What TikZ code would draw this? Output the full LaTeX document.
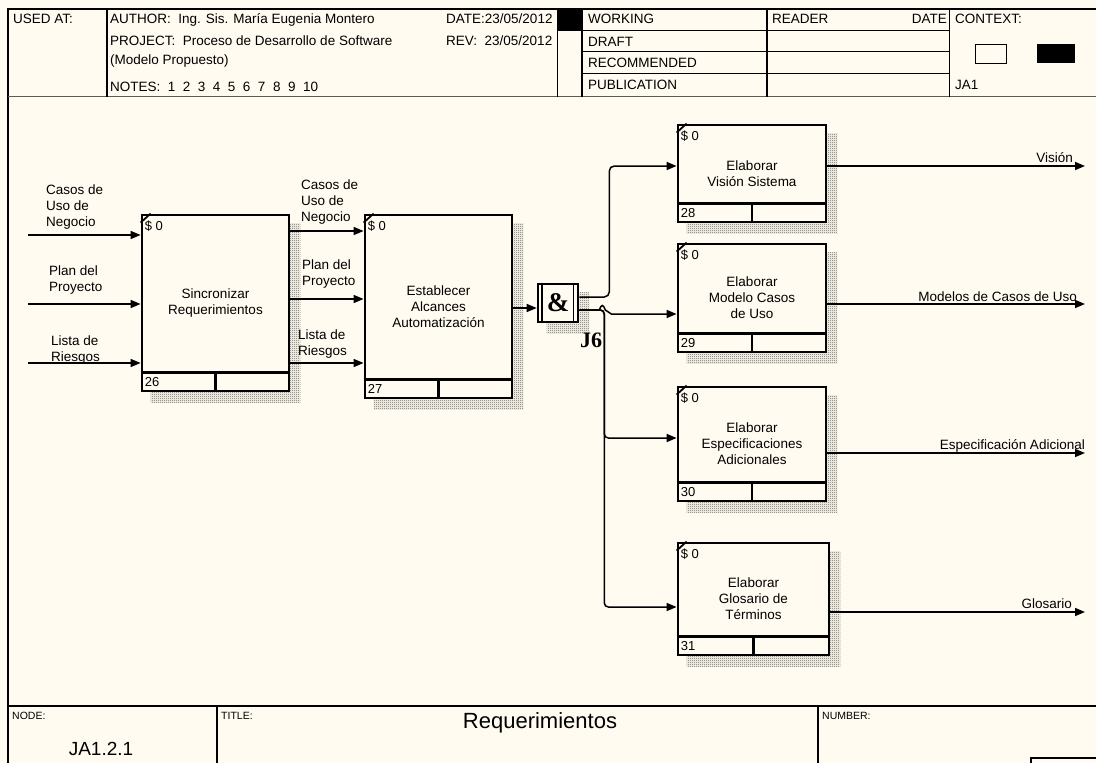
\documentclass[tikz,border=0pt]{standalone}
\usepackage{fontspec}
\setmainfont{Liberation Sans}
\newfontfamily\junctionfont{Liberation Serif}
\usepackage{tikz}
\usetikzlibrary{arrows.meta, positioning, backgrounds, patterns}

\definecolor{paper}{RGB}{255,251,240}
\definecolor{hatchgray}{RGB}{95,95,95}
\definecolor{rulegray}{RGB}{90,90,90}

\pgfdeclarepatternformonly{finechecker}{\pgfqpoint{0pt}{0pt}}{\pgfqpoint{2pt}{2pt}}%
  {\pgfqpoint{2pt}{2pt}}{%
  \pgfpathrectangle{\pgfqpoint{0pt}{0pt}}{\pgfqpoint{1pt}{1pt}}%
  \pgfpathrectangle{\pgfqpoint{1pt}{1pt}}{\pgfqpoint{1pt}{1pt}}%
  \pgfusepath{fill}}

\begin{document}
\begin{tikzpicture}[
    x=1pt, y=-1pt,
    font=\fontsize{13.5}{16}\selectfont,
    activity/.style={rectangle, draw, line width=2.8pt, fill=paper,
      inner sep=0pt, align=center},
    junction/.style={rectangle, draw, line width=2.6pt, fill=paper,
      minimum width=40pt, minimum height=38pt, inner sep=0pt,
      font=\junctionfont\bfseries\fontsize{27}{27}\selectfont},
    flow/.style={-{Triangle[length=10pt, width=8pt]}, line width=1.5pt},
    flowlabel/.style={inner sep=0pt, align=left, anchor=south west},
    outlabel/.style={inner sep=0pt, anchor=base east},
    boxtag/.style={inner sep=0pt, font=\fontsize{13}{15}\selectfont},
    boxshadow/.style={pattern=finechecker, pattern color=hatchgray},
    ruling/.style={line width=1.4pt},
    hdrtext/.style={inner sep=0pt, anchor=base west},
    foottag/.style={inner sep=0pt, anchor=base west,
      font=\fontsize{10.5}{12}\selectfont},
]
\useasboundingbox (0,0) rectangle (1096,763);

% ── Header frame ──
\draw[ruling] (8,763) -- (8,9) -- (1096,9);
\draw[ruling, line width=1.9pt, rulegray] (8,96.5) -- (1096,96.5);
\draw[ruling] (107,9) -- (107,96.5);
\foreach \x in {557.7, 581.8, 767, 949.6}
  \draw[ruling] (\x,9) -- (\x,96.5);
\foreach \y in {30.7, 51.7, 73.3}
  \draw[ruling] (581.8,\y) -- (949.6,\y);

\node[hdrtext] (usedat) at (13,23.5) {USED AT:};
\node[hdrtext] (author) at (110,23.5) {AUTHOR:\ \ Ing. Sis. María Eugenia Montero};
\node[hdrtext] (project) at (110,45) {PROJECT:\ \ Proceso de Desarrollo de Software};
\node[hdrtext] (project2) at (110,64.5) {(Modelo Propuesto)};
\node[hdrtext] (notes) at (110,91.6)
  {NOTES:\ \ 1\ \ 2\ \ 3\ \ 4\ \ 5\ \ 6\ \ 7\ \ 8\ \ 9\ \ 10};
\node[hdrtext] (date) at (446,23.5) {DATE:23/05/2012};
\node[hdrtext] (rev) at (446,45) {REV:\ \ 23/05/2012};
\node[hdrtext] (working) at (588,23.5) {WORKING};
\node[hdrtext] (draft) at (588,46) {DRAFT};
\node[hdrtext] (recommended) at (588,67) {RECOMMENDED};
\node[hdrtext] (publication) at (588,89.3) {PUBLICATION};
\node[hdrtext] (reader) at (772,23.5) {READER};
\node[hdrtext, anchor=base east] (readerdate) at (947,23.5) {DATE};
\node[hdrtext] (context) at (955,23.5) {CONTEXT:};
\node[hdrtext] (contextid) at (955,89.3) {JA1};

\fill (557.7,9) rectangle (581.8,30.7);
\draw[line width=1.2pt, fill=paper] (975.5,44.3) rectangle (1006.7,63.3);
\fill (1036.5,44.3) rectangle (1074.8,63.3);

% ── Activity boxes ──
\node[activity, minimum width=147pt, minimum height=176pt] (b26) at (215.5,303)
  {Sincronizar\\Requerimientos};
\node[activity, minimum width=147pt, minimum height=183pt] (b27) at (438.5,306.5)
  {Establecer\\Alcances\\Automatización};
\node[activity, minimum width=148pt, minimum height=97pt] (b28) at (752,173.5)
  {Elaborar\\Visión Sistema};
\node[activity, minimum width=148pt, minimum height=108pt] (b29) at (752,298)
  {Elaborar\\Modelo Casos\\de Uso};
\node[activity, minimum width=148pt, minimum height=114pt] (b30) at (752,444)
  {Elaborar\\Especificaciones\\Adicionales};
\node[activity, minimum width=151pt, minimum height=112pt] (b31) at (753.5,599)
  {Elaborar\\Glosario de\\Términos};

\foreach \b/\n in {b26/26, b27/27, b28/28, b29/29, b30/30, b31/31} {
  \draw[line width=2.4pt] ([yshift=20pt]\b.south west) -- ([yshift=20pt]\b.south east);
  \draw[line width=2.4pt] (\b.south) -- ([yshift=20pt]\b.south);
  \node[boxtag, anchor=west] (\b-num) at ([xshift=4pt,yshift=10pt]\b.south west) {\n};
  \node[boxtag, anchor=north west] (\b-cost) at ([xshift=4pt,yshift=-7pt]\b.north west) {\$ 0};
  \draw[line width=1.8pt] ([yshift=-9pt]\b.north west) -- ([xshift=10pt]\b.north west);
}

% ── Junction ──
\node[junction] (j6) at (558,303) {\&};
\draw[line width=1.6pt] ([xshift=5pt]j6.north west) -- ([xshift=5pt]j6.south west);
\draw[line width=1.6pt] ([xshift=-6pt]j6.north east) -- ([xshift=-6pt]j6.south east);
\node[inner sep=0pt, anchor=north west,
  font=\junctionfont\bfseries\fontsize{22}{22}\selectfont] (j6tag) at (580,333) {J6};

% ── Shadows ──
\begin{scope}[on background layer]
  \fill[paper] (0,0) rectangle (1096,763);
  \foreach \b in {b26, b27, b28, b29, b30, b31, j6}
    \fill[boxshadow] ([xshift=10pt,yshift=-10pt]\b.north west)
      rectangle ([xshift=10pt,yshift=-10pt]\b.south east);
\end{scope}

% ── Inputs ──
\coordinate (src1) at (28,235);
\coordinate (src2) at (28,304);
\coordinate (src3) at (28,363);
\draw[flow] (src1) -- (src1 -| b26.west);
\draw[flow] (src2) -- (src2 -| b26.west);
\draw[flow] (src3) -- (src3 -| b26.west);
\node[flowlabel] (lab-casos1) at (46,229) {Casos de\\Uso de\\Negocio};
\node[flowlabel] (lab-plan1) at (49,294) {Plan del\\Proyecto};
\node[flowlabel] (lab-lista1) at (51,364) {Lista de\\Riesgos};

% ── Between 26 and 27 ──
\draw[flow] ([yshift=72pt]b26.east) -- ([yshift=75.5pt]b27.west);
\draw[flow] ([yshift=4pt]b26.east) -- ([yshift=7.5pt]b27.west);
\draw[flow] ([yshift=-60pt]b26.east) -- ([yshift=-56.5pt]b27.west);
\node[flowlabel] (lab-casos2) at (301,224) {Casos de\\Uso de\\Negocio};
\node[flowlabel] (lab-plan2) at (302,288) {Plan del\\Proyecto};
\node[flowlabel] (lab-lista2) at (298,358) {Lista de\\Riesgos};

% ── Into and out of J6 ──
\draw[flow] ([yshift=-1.5pt]b27.east) -- ([yshift=-5pt]j6.west);
\draw[flow, rounded corners=5pt] ([yshift=6pt]j6.east) -- ++(30,0)
  |- ([yshift=7.5pt]b28.west);
\draw[flow] ([yshift=-7pt]j6.east) -- ++(20,0)
  .. controls +(2,-6) and +(-2,-6) .. ++(6,0) -- ++(6,4)
  -- ([yshift=-16pt]b29.west);
\draw[flow, rounded corners=4pt] ([yshift=-7pt]j6.east) -- ++(25,0)
  |- ([yshift=6pt]b30.west);
\draw[flow, rounded corners=4pt] ([yshift=-7pt]j6.east) -- ++(25,0)
  |- ([yshift=-8pt]b31.west);

% ── Outputs ──
\coordinate (sink28) at (1085,166);
\coordinate (sink29) at (1085,304);
\coordinate (sink30) at (1085,453);
\coordinate (sink31) at (1085,612);
\draw[flow] (sink28 -| b28.east) -- (sink28);
\draw[flow] (sink29 -| b29.east) -- (sink29);
\draw[flow] (sink30 -| b30.east) -- (sink30);
\draw[flow] (sink31 -| b31.east) -- (sink31);
\node[outlabel] (lab-vision) at (1073,162.8) {Visión};
\node[outlabel] (lab-modelos) at (1077,301.8) {Modelos de Casos de Uso};
\node[outlabel] (lab-espec) at (1085,449.5) {Especificación Adicional};
\node[outlabel] (lab-glosario) at (1072,608.8) {Glosario};

% ── Footer ──
\draw[ruling] (8,706) -- (1096,706);
\draw[ruling] (217,706) -- (217,763);
\draw[ruling] (818,706) -- (818,763);
\draw[ruling] (1031,763) -- (1031,758) -- (1096,758);
\node[foottag] (nodetag) at (12,719) {NODE:};
\node[foottag] (titletag) at (221,719) {TITLE:};
\node[foottag] (numbertag) at (822,719) {NUMBER:};
\node[inner sep=0pt, anchor=base, font=\fontsize{22}{24}\selectfont]
  (title) at (540,728) {Requerimientos};
\node[inner sep=0pt, anchor=base, font=\fontsize{19}{21}\selectfont]
  (nodeid) at (101,755) {JA1.2.1};

\end{tikzpicture}
\end{document}
